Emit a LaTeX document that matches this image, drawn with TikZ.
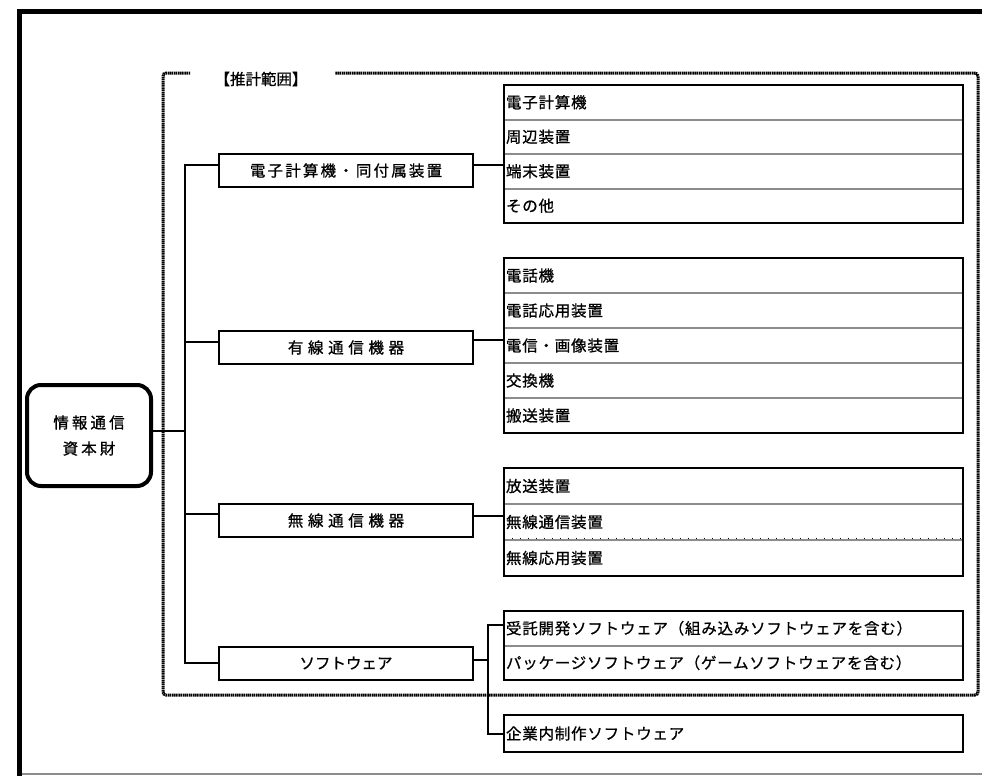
\documentclass[tikz,border=0pt]{standalone}
\usepackage{fontspec}
\newfontfamily\jp[FakeBold=0.8]{Noto Sans CJK JP}
\newfontfamily\jpsp[LetterSpace=30,FakeBold=0.8]{Noto Sans CJK JP}
\newfontfamily\jpmid[LetterSpace=14,FakeBold=0.8]{Noto Sans CJK JP}
\newfontfamily\jpls[LetterSpace=5,FakeBold=0.8]{Noto Sans CJK JP}
\newfontfamily\jprt[LetterSpace=20,FakeBold=0.8]{Noto Sans CJK JP}
\begin{document}
\begin{tikzpicture}[x=1pt,y=-1pt,
  rootbox/.style={draw,line width=4pt,rounded corners=14pt,minimum width=124pt,minimum height=101pt,inner sep=0pt,align=center,font=\jprt\fontsize{15.5}{26}\selectfont},
  midbox/.style={draw,line width=2pt,minimum width=254pt,minimum height=33pt,inner sep=0pt,font=\jpsp\fontsize{15.5}{18}\selectfont},
  rowbox/.style={minimum width=459pt,inner sep=0pt,text width=455pt,align=left,font=\jpls\fontsize{15.5}{18}\selectfont},
  listframe/.style={draw,line width=2.5pt},
  divline/.style={draw=black!45,line width=2pt},
  conn/.style={draw,line width=2pt},
  scopeframe/.style={draw,line width=3pt,dash pattern=on 1.5pt off 0.6pt,rounded corners=3pt},
  labeltext/.style={inner sep=0pt,font=\jp\fontsize{15.5}{18}\selectfont}
]
\useasboundingbox (0,0) rectangle (982,776);
% outer frame
\draw[line width=5pt] (19.5,776) -- (19.5,11.5) -- (982,11.5);
\draw[black!45,line width=1.5pt] (22,774) -- (982,774);

% scope frame
\node[labeltext] (lbl) at (261,79) {【推計範囲】};
\draw[scopeframe] (190,73) -- (163,73) -- (163,695) -- (978,695) -- (978,73) -- (335,73);

% root
\node[rootbox] (root) at (89,435.5) {情報通信\\資本財};

% middle boxes
\node[midbox,font=\jpmid\fontsize{15.5}{18}\selectfont] (m1) at (346,170.5) {電子計算機・同付属装置};
\node[midbox] (m2) at (346,347.5) {有線通信機器};
\node[midbox] (m3) at (346,520.5) {無線通信機器};
\node[midbox,font=\jp\fontsize{15.5}{18}\selectfont] (m4) at (346,663) {ソフトウェア};

% list 1
\node[rowbox,minimum height=34.5pt] (l1a) at (733.5,102.25) {電子計算機};
\node[rowbox,minimum height=34.5pt] (l1b) at (733.5,136.75) {周辺装置};
\node[rowbox,minimum height=34.5pt] (l1c) at (733.5,171.25) {端末装置};
\node[rowbox,minimum height=34.5pt] (l1d) at (733.5,205.75) {その他};
% list 2
\node[rowbox,minimum height=35pt] (l2a) at (733.5,275.5) {電話機};
\node[rowbox,minimum height=35pt] (l2b) at (733.5,310.5) {電話応用装置};
\node[rowbox,minimum height=35pt] (l2c) at (733.5,345.5) {電信・画像装置};
\node[rowbox,minimum height=35pt] (l2d) at (733.5,380.5) {交換機};
\node[rowbox,minimum height=35pt] (l2e) at (733.5,415.5) {搬送装置};
% list 3
\node[rowbox,minimum height=36pt] (l3a) at (733.5,486) {放送装置};
\node[rowbox,minimum height=36pt] (l3b) at (733.5,522) {無線通信装置};
\node[rowbox,minimum height=36pt] (l3c) at (733.5,558) {無線応用装置};
% list 4
\node[rowbox,minimum height=34.5pt] (l4a) at (733.5,628.25) {受託開発ソフトウェア（組み込みソフトウェアを含む）};
\node[rowbox,minimum height=34.5pt] (l4b) at (733.5,662.75) {パッケージソフトウェア（ゲームソフトウェアを含む）};
\node[rowbox,minimum height=37pt] (l4c) at (733.5,733.5) {企業内制作ソフトウェア};

% dividers
\foreach \r in {l1a,l1b,l1c,l2a,l2b,l2c,l2d,l3a,l3b,l4a}
  \draw[divline] (\r.south west) -- (\r.south east);
\draw[line width=1pt,dash pattern=on 1pt off 7pt] ([yshift=1.5pt]l3b.south west) -- ([yshift=1.5pt]l3b.south east);
% frames
\draw[listframe] (l1a.north west) rectangle (l1d.south east);
\draw[listframe] (l2a.north west) rectangle (l2e.south east);
\draw[listframe] (l3a.north west) rectangle (l3c.south east);
\draw[listframe] (l4a.north west) rectangle (l4b.south east);
\draw[listframe] (l4c.north west) rectangle (l4c.south east);

% trunk connectors
\coordinate (tr) at (185,0);
\draw[conn] ([yshift=5pt]root.east) -- ([yshift=5pt]root.east -| tr);
\draw[conn] ([yshift=5.5pt]m1.west) -- ([yshift=5.5pt]m1.west -| tr) -- (m4.west -| tr) -- (m4.west);
\draw[conn] ([yshift=5.5pt]m2.west) -- ([yshift=5.5pt]m2.west -| tr);
\draw[conn] ([yshift=6.5pt]m3.west) -- ([yshift=6.5pt]m3.west -| tr);

% right connectors
\draw[conn] ([yshift=5.5pt]m1.east) -- ([yshift=5.5pt]m1.east -| l1c.west);
\draw[conn] ([yshift=8pt]m2.east) -- ([yshift=8pt]m2.east -| l2c.west);
\draw[conn] ([yshift=5pt]m3.east) -- ([yshift=5pt]m3.east -| l3b.west);
\coordinate (sw) at (488,0);
\draw[conn] ([yshift=3pt]m4.east) -- ([yshift=3pt]m4.east -| sw);
\draw[conn] ([yshift=3pt]l4a.west) -- ([yshift=3pt]l4a.west -| sw) -- (l4c.west -| sw) -- (l4c.west);
\end{tikzpicture}
\end{document}
